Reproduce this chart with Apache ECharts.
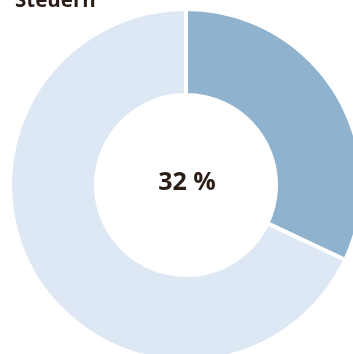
<!DOCTYPE html>
<html>
<head>
<meta charset="utf-8">
<script src="https://cdn.jsdelivr.net/npm/echarts@6/dist/echarts.min.js"></script>
<style>
  html, body { margin: 0; padding: 0; background: #ffffff; }
  #chart { width: 353px; height: 354px; }
</style>
</head>
<body>
<div id="chart"></div>
<script>
// Share of taxes (Steuern) against the remainder
const categories = ['Steuern', 'Übrige'];
const shares = [32, 68];
const sliceColors = ['#8fb3cf', '#dde8f4'];
const titleText = 'Steuern';
const centerLabel = '32 %';

const chart = echarts.init(document.getElementById('chart'), null, { renderer: 'canvas' });

chart.setOption({
  animation: false,
  title: {
    text: titleText,
    left: 10,
    top: -14,
    textStyle: {
      fontFamily: 'Open Sans',
      fontWeight: 'bold',
      fontSize: 20.5,
      color: '#2b1d16'
    }
  },
  graphic: [{
    type: 'text',
    x: 187,
    y: 183,
    style: {
      text: centerLabel,
      align: 'center',
      verticalAlign: 'middle',
      font: 'bold 25px "Open Sans"',
      fill: '#2b1d16'
    }
  }],
  series: [{
    type: 'pie',
    center: [186, 185],
    // white 4px stroke eats 2px on each ring edge
    radius: [90, 176],
    startAngle: 90,
    clockwise: true,
    silent: true,
    label: { show: false },
    labelLine: { show: false },
    itemStyle: { borderColor: '#ffffff', borderWidth: 4 },
    data: categories.map((name, i) => ({
      name,
      value: shares[i],
      itemStyle: { color: sliceColors[i] }
    }))
  }]
});
</script>
</body>
</html>
